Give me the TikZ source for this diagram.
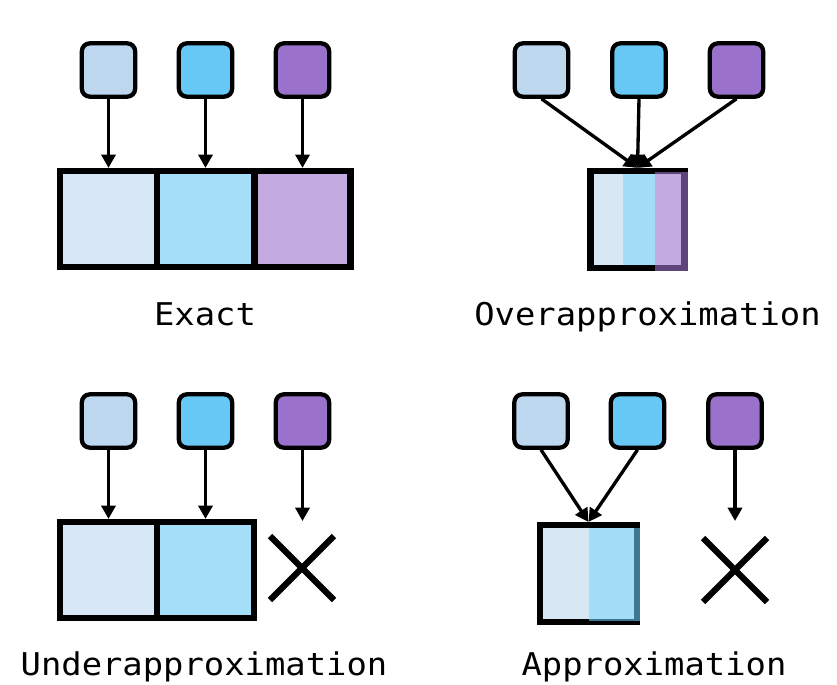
\documentclass[tikz,border=0pt]{standalone}
\usepackage{fontspec}
\newfontfamily\labfont[FakeStretch=1.08]{DejaVu Sans Mono}
\usetikzlibrary{arrows.meta}
\definecolor{cA}{HTML}{BDD7EE}
\definecolor{cB}{HTML}{67C8F5}
\definecolor{cC}{HTML}{9B72CB}
\begin{document}
\begin{tikzpicture}[x=0.75pt,y=-0.75pt,
  src/.style={draw, line width=3.2pt, rounded corners=6pt, minimum size=40pt, inner sep=0pt},
  cell/.style={draw, line width=4.6pt, minimum width=72.75pt, minimum height=72pt, inner sep=0pt},
  arr/.style={line width=2.5pt, -{Triangle[length=10pt,width=10.5pt]}},
  cross/.style={line width=4.6pt},
  lab/.style={font=\labfont\fontsize{23.5}{28}\selectfont, anchor=base, inner sep=0pt}]
\useasboundingbox (0,0) rectangle (837,684);

% ---------- Exact ----------
\node[src, fill=cA] (a1) at (108.5,70) {};
\node[src, fill=cB] (a2) at (205.5,70) {};
\node[src, fill=cC] (a3) at (302.5,70) {};
\node[cell, fill=cA!60] (b1) at (108.5,219) {};
\node[cell, fill=cB!60] (b2) at (205.5,219) {};
\node[cell, fill=cC!60, minimum width=72pt] (b3) at (302.5,219) {};
\draw[arr] (a1.south) -- (b1.north);
\draw[arr] (a2.south) -- (b2.north);
\draw[arr] (a3.south) -- (b3.north);
\node[lab] (l1) at (205,325) {Exact};

% ---------- Overapproximation ----------
\node[src, fill=cA] (c1) at (541.5,70) {};
\node[src, fill=cB] (c2) at (639,70) {};
\node[src, fill=cC] (c3) at (736.5,70) {};
\node[cell, fill=white, minimum width=70.5pt, minimum height=72.75pt] (d) at (637.5,219.5) {};
\fill[cA, opacity=0.6] (593.5,174) rectangle (623,265);
\fill[cB, opacity=0.6] (623,174) rectangle (655,265);
\fill[cC, opacity=0.6] (655,172) rectangle (687.5,271);
\draw[arr] (c1.south) -- (d.north);
\draw[arr] (c2.south) -- (d.north);
\draw[arr] (c3.south) -- (d.north);
\node[lab] (l2) at (647.5,325) {Overapproximation};

% ---------- Underapproximation ----------
\node[src, fill=cA] (e1) at (108.5,421) {};
\node[src, fill=cB] (e2) at (205.5,421) {};
\node[src, fill=cC] (e3) at (302.5,421) {};
\node[cell, fill=cA!60] (f1) at (108.5,570) {};
\node[cell, fill=cB!60] (f2) at (205.5,570) {};
\coordinate (f3) at (302.5,521);
\draw[arr] (e1.south) -- (f1.north);
\draw[arr] (e2.south) -- (f2.north);
\draw[arr] (e3.south) -- (f3);
\draw[cross] (270,536) -- (334,600) (270,600) -- (334,536);
\node[lab] (l3) at (204,675) {Underapproximation};

% ---------- Approximation ----------
\node[src, fill=cA] (g1) at (541,421) {};
\node[src, fill=cB] (g2) at (637.5,421) {};
\node[src, fill=cC] (g3) at (735,421) {};
\node[cell, fill=white, minimum width=72.75pt, minimum height=72.75pt] (h) at (588.5,573.5) {};
\fill[cA, opacity=0.6] (543,528) rectangle (589,619);
\fill[cB, opacity=0.6] (589,528) rectangle (640,621);
\coordinate (h3) at (735,521);
\draw[arr] (g1.south) -- (h.north);
\draw[arr] (g2.south) -- (h.north);
\draw[arr] (g3.south) -- (h3);
\draw[cross] (703,538) -- (767,602) (703,602) -- (767,538);
\node[lab] (l4) at (654,675) {Approximation};
\end{tikzpicture}
\end{document}
